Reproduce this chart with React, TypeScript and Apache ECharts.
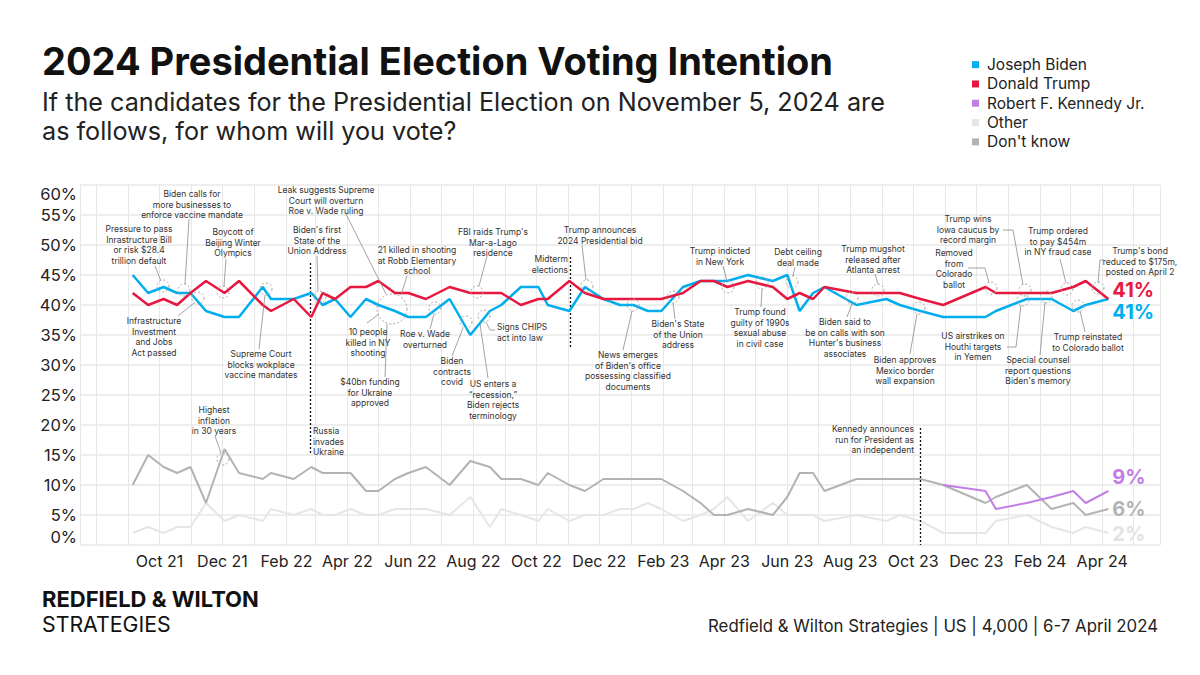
import React, { useEffect, useRef } from 'react';
import * as echarts from 'echarts';

const F = 'Inter, "Noto Sans", sans-serif';

// ---- DATA ----
const pollDates = [
  '2021-09-05', '2021-09-20', '2021-10-05', '2021-10-18', '2021-10-31', '2021-11-15', '2021-12-03', '2021-12-17',
  '2022-01-09', '2022-01-17', '2022-02-08', '2022-02-25', '2022-03-08', '2022-03-20', '2022-04-04', '2022-04-19',
  '2022-05-01', '2022-05-17', '2022-05-30', '2022-06-16', '2022-07-09', '2022-07-29', '2022-08-17', '2022-08-28',
  '2022-09-16', '2022-10-03', '2022-10-12', '2022-11-02', '2022-11-17', '2022-12-05', '2022-12-21', '2023-01-03',
  '2023-01-17', '2023-01-30', '2023-02-20', '2023-03-09', '2023-03-22', '2023-04-04', '2023-04-24', '2023-05-18',
  '2023-06-01', '2023-06-13', '2023-06-26', '2023-07-07', '2023-08-07', '2023-09-05', '2023-09-18', '2023-10-08',
  '2023-10-30', '2023-12-10', '2023-12-20', '2024-01-19', '2024-02-12', '2024-03-04', '2024-03-16', '2024-04-07',
];
const biden = [
  45, 42, 43, 42, 42, 39, 38, 38, 43, 41, 41, 42, 40, 41, 38, 41,
  40, 39, 38, 38, 41, 35, 39, 40, 43, 43, 40, 39, 43, 41, 40, 40,
  39, 39, 43, 44, 44, 44, 45, 44, 45, 39, 42, 43, 40, 41, 40, 39,
  38, 38, 39, 41, 41, 39, 40, 41,
];
const trump = [
  42, 40, 41, 40, 42, 44, 42, 44, 40, 39, 41, 38, 42, 41, 43, 43,
  44, 42, 42, 41, 43, 42, 42, 42, 40, 41, 41, 44, 42, 41, 41, 41,
  41, 41, 42, 44, 44, 43, 44, 43, 41, 42, 41, 43, 42, 42, 42, 41,
  40, 43, 42, 42, 42, 43, 44, 41,
];
const kennedy = [
  null, null, null, null, null, null, null, null, null, null, null, null, null, null, null, null,
  null, null, null, null, null, null, null, null, null, null, null, null, null, null, null, null,
  null, null, null, null, null, null, null, null, null, null, null, null, null, null, null, null,
  10, 9, 6, 7, 8, 9, 7, 9,
];
const other = [
  2, 3, 2, 3, 3, 7, 4, 5, 4, 6, 5, 6, 5, 5, 6, 5,
  5, 6, 6, 6, 5, 8, 3, 6, 5, 4, 6, 4, 5, 5, 6, 6,
  7, 6, 4, 5, 6, 8, 4, 7, 5, 5, 5, 4, 5, 4, 5, 4,
  2, 2, 4, 5, 3, 2, 3, 2,
];
const dontKnow = [
  10, 15, 13, 12, 13, 7, 16, 12, 11, 12, 11, 13, 12, 12, 12, 9,
  9, 11, 12, 13, 10, 14, 13, 11, 11, 10, 12, 10, 9, 11, 11, 11,
  11, 11, 9, 7, 5, 5, 6, 5, 8, 12, 12, 9, 11, 11, 11, 11,
  10, 7, 8, 10, 6, 7, 5, 6,
];
const seriesNames = ['Joseph Biden', 'Donald Trump', 'Robert F. Kennedy Jr.', 'Other', "Don't know"];
const monthNames = ['Jan', 'Feb', 'Mar', 'Apr', 'May', 'Jun', 'Jul', 'Aug', 'Sep', 'Oct', 'Nov', 'Dec'];
const firstLabelDate = '2021-10-01';

// vertical event lines (date, from value, to value)
const eventLines = [
  { date: '2022-02-24', from: 47, to: 15 },
  { date: '2022-11-03', from: 48, to: 33 },
  { date: '2023-10-08', from: 19.5, to: 0 },
];

// ---- ANNOTATION LAYOUT (pixels) ----
type Ann = { lines: string[]; x: number; y: number; align?: string; leader?: number[][]; circle?: number[]; size?: number };
const anns: Ann[] = [
  { lines: ['Pressure to pass', 'Inrastructure Bill', 'or risk $28.4', 'trillion default'], x: 139, y: 229, leader: [[155, 266], [161, 281]], circle: [163, 286] },
  { lines: ['Biden calls for', 'more businesses to', 'enforce vaccine mandate'], x: 192, y: 194, leader: [[189, 219], [185, 284]], circle: [184, 290] },
  { lines: ['Infrastructure', 'Investment', 'and Jobs', 'Act passed'], x: 154, y: 321, leader: [[178, 316], [194, 303]], circle: [198, 298] },
  { lines: ['Boycott of', 'Beijing Winter', 'Olympics'], x: 233, y: 232, leader: [[226, 259], [224, 286]], circle: [223, 292] },
  { lines: ['Supreme Court', 'blocks wokplace', 'vaccine mandates'], x: 261, y: 354, leader: [[259, 349], [265, 295]], circle: [266, 289] },
  { lines: ['Highest', 'inflation', 'in 30 years'], x: 214, y: 410, leader: [[215, 436], [221, 453]], circle: [223, 459] },
  { lines: ["Biden's first", 'State of the', 'Union Address'], x: 317, y: 230, leader: [[317, 256], [318, 291]], circle: [320, 297] },
  { lines: ['Leak suggests Supreme', 'Court will overturn', 'Roe v. Wade ruling'], x: 326, y: 190, leader: [[346, 214], [386, 294]], circle: [392, 309, 15] },
  { lines: ['21 killed in shooting', 'at Robb Elementary', 'school'], x: 417, y: 250, leader: [[407, 276], [401, 295]] },
  { lines: ['10 people', 'killed in NY', 'shooting'], x: 368, y: 332, leader: [[367, 323], [379, 314]] },
  { lines: ['$40bn funding', 'for Ukraine', 'approved'], x: 370, y: 382, leader: [[385, 377], [387, 324]] },
  { lines: ['Roe v. Wade', 'overturned'], x: 425, y: 334, leader: [[430, 329], [434, 314]], circle: [435, 308] },
  { lines: ["FBI raids Trump's", 'Mar-a-Lago', 'residence'], x: 493, y: 232, leader: [[487, 256], [479, 286]], circle: [477, 292] },
  { lines: ['Biden', 'contracts', 'covid'], x: 452, y: 361, leader: [[452, 356], [463, 328]], circle: [466, 322] },
  { lines: ['US enters a', '\u201crecession,\u201d', 'Biden rejects', 'terminology'], x: 493, y: 384, leader: [[488, 378], [480, 324]] },
  { lines: ['Signs CHIPS', 'act into law'], x: 497, y: 327, align: 'left', leader: [[495, 330], [490, 330], [486, 322]], circle: [484, 316] },
  { lines: ['Midterm', 'elections'], x: 568, y: 259, align: 'right' },
  { lines: ['Trump announces', '2024 Presidential bid'], x: 600, y: 230, leader: [[582, 245], [586, 280]], circle: [587, 286] },
  { lines: ['News emerges', "of Biden's office", 'possessing classified', 'documents'], x: 628, y: 355, leader: [[623, 350], [632, 311]], circle: [633, 305] },
  { lines: ["Biden's State", 'of the Union', 'address'], x: 678, y: 324, leader: [[675, 319], [673, 303]], circle: [673, 297] },
  { lines: ['Trump indicted', 'in New York'], x: 720, y: 251, leader: [[723, 266], [727, 281]], circle: [728, 287] },
  { lines: ['Trump found', 'guilty of 1990s', 'sexual abuse', 'in civil case'], x: 760, y: 312, leader: [[761, 307], [762, 289]], circle: [762, 283] },
  { lines: ['Debt ceiling', 'deal made'], x: 798, y: 252, leader: [[795, 267], [793, 276]], circle: [792, 282] },
  { lines: ['Trump mugshot', 'released after', 'Atlanta arrest'], x: 873, y: 249, leader: [[875, 274], [878, 284]], circle: [878, 290] },
  { lines: ['Biden said to', 'be on calls with son', "Hunter's business", 'associates'], x: 845, y: 322, leader: [[847, 317], [852, 304]], circle: [852, 298] },
  { lines: ['Biden approves', 'Mexico border', 'wall expansion'], x: 905, y: 360, leader: [[910, 354], [917, 314]], circle: [919, 308] },
  { lines: ['Kennedy announces', 'run for President as', 'an independent'], x: 914, y: 429, align: 'right' },
  { lines: ['Removed', 'from', 'Colorado', 'ballot'], x: 954, y: 253, leader: [[968, 268], [985, 268], [989, 283]], circle: [991, 288] },
  { lines: ['Trump wins', 'Iowa caucus by', 'record margin'], x: 968, y: 219, leader: [[1003, 230], [1013, 230], [1023, 285]], circle: [1025, 290] },
  { lines: ['US airstrikes on', 'Houthi targets', 'in Yemen'], x: 973, y: 336, leader: [[1007, 347], [1016, 347], [1021, 305]], circle: [1023, 300] },
  { lines: ['Special counsel', 'report questions', "Biden's memory"], x: 1038, y: 360, leader: [[1040, 355], [1045, 302]], circle: [1046, 297] },
  { lines: ['Trump ordered', 'to pay $454m', 'in NY fraud case'], x: 1058, y: 231, leader: [[1060, 259], [1066, 283]], circle: [1067, 289] },
  { lines: ['Trump reinstated', 'to Colorado ballot'], x: 1088, y: 337, leader: [[1085, 332], [1080, 311]], circle: [1078, 306] },
  { lines: ["Trump's bond", 'reduced to $175m,', 'posted on April 2'], x: 1140, y: 251, leader: [[1104, 260], [1100, 260], [1098, 283]], circle: [1098, 288] },
  { lines: ['Russia', 'invades', 'Ukraine'], x: 313, y: 431, align: 'left' },
];

const ts = (s: string) => {
  const [y, m, d] = s.split('-').map(Number);
  return new Date(y, m - 1, d).getTime();
};

function buildGraphic() {
  const g: any[] = [];
  const LH = 10.5;
  anns.forEach((a) => {
    g.push({
      type: 'text', x: a.x, y: a.y - LH / 2, z: 50,
      style: { text: a.lines.join('\n'), fill: '#333', fontSize: a.size || 8.5, fontFamily: F, align: a.align || 'center', verticalAlign: 'top', lineHeight: LH },
    });
    if (a.leader) {
      g.push({ type: 'polyline', z: 49, shape: { points: a.leader }, style: { stroke: '#8c8c8c', lineWidth: 0.8, fill: null } });
    }
    if (a.circle) {
      g.push({ type: 'circle', z: 49, shape: { cx: a.circle[0], cy: a.circle[1], r: a.circle[2] || 6 }, style: { fill: null, stroke: '#a6a6a6', lineWidth: 1, lineDash: [2, 2] } });
    }
  });
  g.push(
    { type: 'text', x: 42, y: 61, style: { text: '2024 Presidential Election Voting Intention', fill: '#111', fontSize: 38, fontWeight: 'bold', fontFamily: F, verticalAlign: 'middle' } },
    { type: 'text', x: 42, y: 102, style: { text: 'If the candidates for the Presidential Election on November 5, 2024 are', fill: '#222', fontSize: 25.2, fontFamily: F, verticalAlign: 'middle' } },
    { type: 'text', x: 42, y: 131, style: { text: 'as follows, for whom will you vote?', fill: '#222', fontSize: 25.2, fontFamily: F, verticalAlign: 'middle' } },
    { type: 'text', x: 42, y: 599, style: { text: 'REDFIELD & WILTON', fill: '#111', fontSize: 22, lineHeight: 20, fontWeight: 'bold', fontFamily: F, verticalAlign: 'middle' } },
    { type: 'text', x: 42, y: 624, style: { text: 'STRATEGIES', fill: '#111', fontSize: 21.3, lineHeight: 20, fontFamily: F, verticalAlign: 'middle' } },
    { type: 'text', x: 1158, y: 626, style: { text: 'Redfield & Wilton Strategies | US | 4,000 | 6-7 April 2024', fill: '#222', fontSize: 16.8, fontFamily: F, align: 'right', verticalAlign: 'middle' } },
  );
  return g;
}

function lineSeries(name: string, vals: (number | null)[], color: string, width: number, z: number, offset: number[], labelColor?: string): any {
  return {
    name, type: 'line', z,
    data: pollDates.map((d, i) => [ts(d), vals[i]]),
    showSymbol: false, symbol: 'none', connectNulls: false,
    itemStyle: { color },
    lineStyle: { color, width },
    emphasis: { disabled: true },
    endLabel: {
      show: true, formatter: (p: any) => p.value[1] + '%', color: labelColor || color,
      fontSize: 20, fontWeight: 'bold', fontFamily: F, offset, distance: 4,
    },
  };
}

export default function App() {
  const ref = useRef<HTMLDivElement>(null);
  useEffect(() => {
    const chart = echarts.init(ref.current!, null, { renderer: 'svg' });
    const otherS = lineSeries('Other', other, '#e6e6e6', 2, 2, [0, 1], '#e3e3e3');
    const dkS = lineSeries("Don't know", dontKnow, '#b3b3b3', 2, 3, [0, 0]);
    dkS.markLine = {
      silent: true, symbol: ['none', 'none'], label: { show: false },
      lineStyle: { color: '#111', width: 1.3, type: [2, 2] },
      data: eventLines.map((e) => [{ coord: [ts(e.date), e.from] }, { coord: [ts(e.date), e.to] }]),
    };
    const firstLabel = ts(firstLabelDate);
    const option: any = {
      animation: false,
      backgroundColor: '#fff',
      textStyle: { fontFamily: F },
      grid: { left: 80, right: 40, top: 185, bottom: 130, containLabel: false },
      legend: {
        orient: 'vertical', left: 972, top: 55, padding: 0, itemGap: 0,
        icon: 'rect', itemWidth: 7, itemHeight: 7, selectedMode: false,
        textStyle: { fontSize: 15.5, color: '#222', fontFamily: F, lineHeight: 19.3, padding: [0, 0, 0, 3] },
        data: seriesNames,
      },
      xAxis: {
        type: 'time', min: ts('2021-07-16'), max: ts('2024-05-27'),
        minInterval: 28 * 86400000, maxInterval: 31 * 86400000, splitNumber: 40,
        axisLine: { show: false }, axisTick: { show: false },
        splitLine: { show: true, lineStyle: { color: '#e8e8e8', width: 1 } },
        axisLabel: {
          show: true, margin: 8, fontSize: 16, color: '#222', fontFamily: F, hideOverlap: false,
          showMinLabel: false, showMaxLabel: false,
          formatter: (v: number) => {
            const d = new Date(v);
            if (v < firstLabel || d.getDate() !== 1 || d.getMonth() % 2 === 0) return '';
            return monthNames[d.getMonth()] + ' ' + String(d.getFullYear()).slice(2);
          },
        },
      },
      yAxis: {
        type: 'value', min: 0, max: 60, interval: 5,
        axisLine: { show: false }, axisTick: { show: false },
        splitLine: { lineStyle: { color: '#e8e8e8', width: 1.5 } },
        axisLabel: {
          formatter: '{value}%', fontSize: 16.5, color: '#222', fontFamily: F, margin: 3,
          verticalAlignMaxLabel: 'top', verticalAlignMinLabel: 'bottom',
        },
      },
      series: [
        otherS,
        dkS,
        lineSeries('Robert F. Kennedy Jr.', kennedy, '#c27ee6', 2, 4, [0, -14]),
        lineSeries('Joseph Biden', biden, '#00aeef', 2.5, 5, [0, 13]),
        lineSeries('Donald Trump', trump, '#e8173f', 2.5, 6, [0, -9]),
      ],
      graphic: buildGraphic(),
    };
    chart.setOption(option);
    return () => chart.dispose();
  }, []);
  return <div ref={ref} style={{ position: 'absolute', left: 0, top: 0, width: 1200, height: 675, background: '#fff' }} />;
}
